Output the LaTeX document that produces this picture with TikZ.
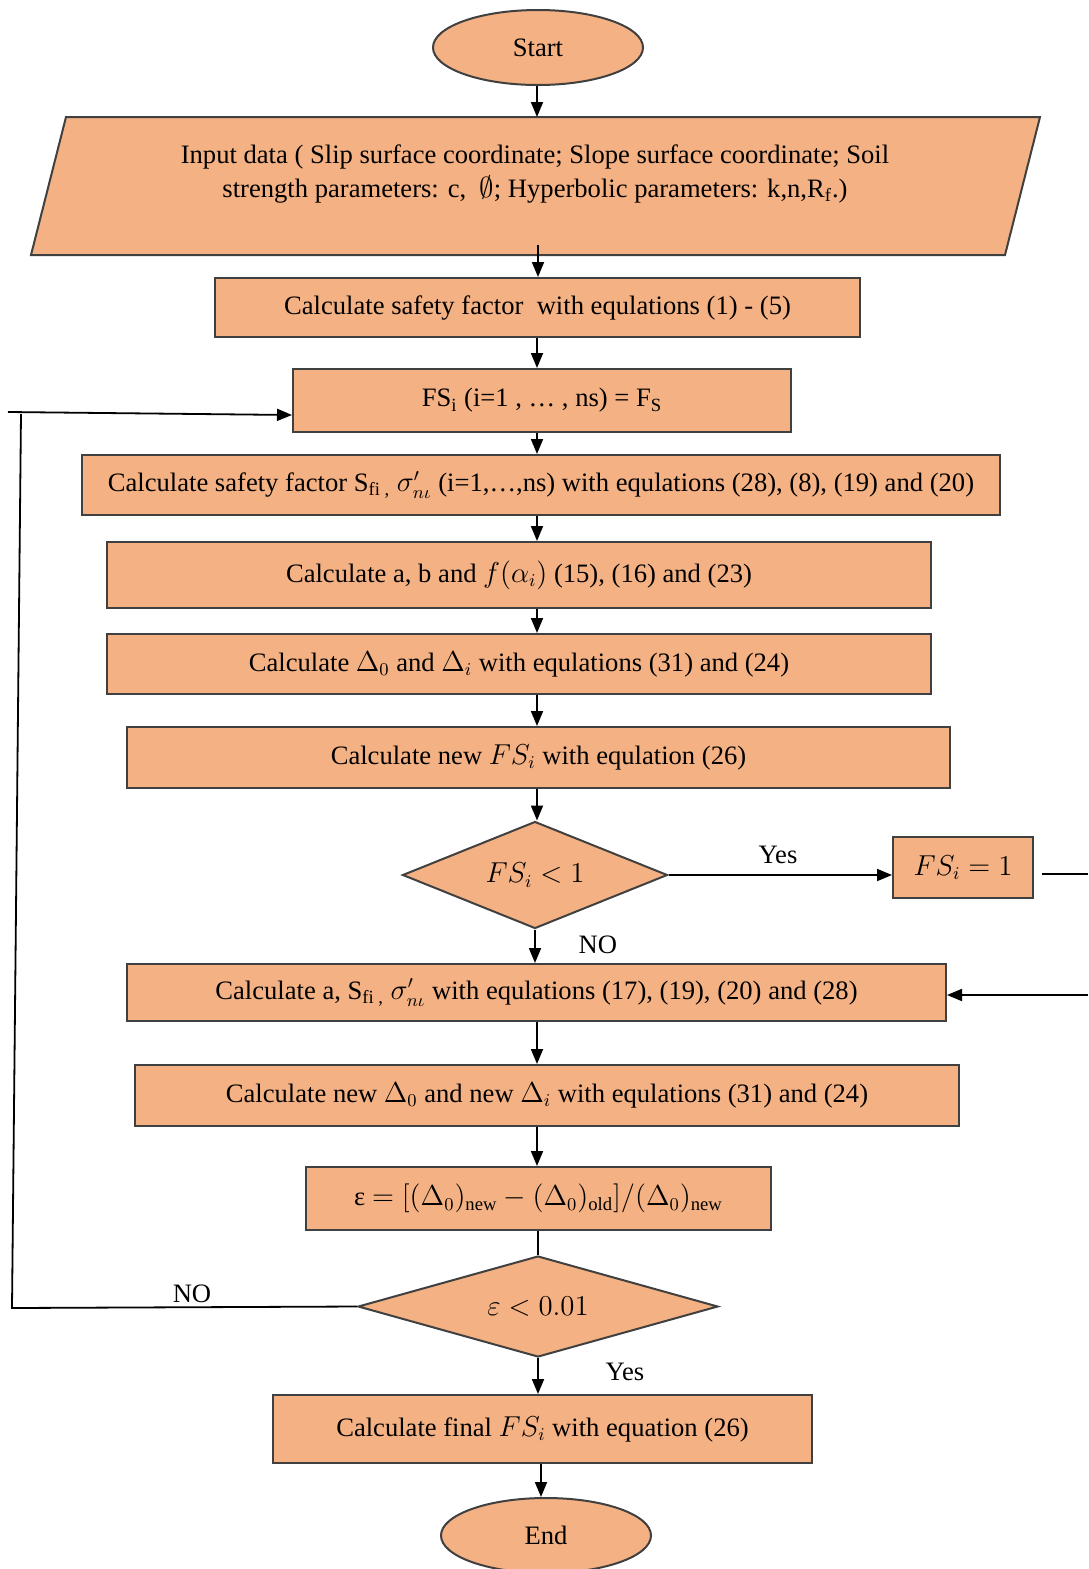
\documentclass[tikz,border=0pt]{standalone}
\usepackage{fontspec}
\setmainfont{Liberation Serif}
\usetikzlibrary{shapes.geometric,arrows.meta}
\begin{document}
\begin{tikzpicture}[x=0.5pt,y=-0.5pt,
  every node/.style={font=\fontsize{13.3}{16}\selectfont},
  fillst/.style={fill=peach, draw=bord, line width=1pt},
  boxst/.style={fillst, rectangle, inner sep=0pt, align=center},
  ellst/.style={fillst, ellipse, inner sep=0pt},
  diast/.style={fillst, diamond, inner sep=0pt},
  arr/.style={line width=0.9pt, -{Triangle[length=7.5pt,width=6pt]}},
  ln/.style={line width=0.9pt}]
\definecolor{peach}{HTML}{F4B183}
\definecolor{bord}{HTML}{404040}
\useasboundingbox (0,0) rectangle (1088,1569);
\coordinate (sp) at (537,0);
% start
\node[ellst, minimum width=105pt, minimum height=37.5pt] (start) at (538,47.5) {Start};
% input parallelogram
\draw[fillst] (66,117) -- (1040,117) -- (1005,255) -- (31,255) -- cycle;
\node[align=center] (inp) at (535,174) {Input data ( Slip surface coordinate; Slope surface coordinate; Soil\\[1pt] strength parameters: c,\ \ $\emptyset$; Hyperbolic parameters: k,n,R\textsubscript{f}.)};
\coordinate (inpT) at (538,117);
\coordinate (inpB) at (538,245);
% boxes
\node[boxst, minimum width=322.5pt, minimum height=29.5pt] (b1) at (537.5,307.5) {Calculate safety factor\ \ with equlations (1) - (5)};
\node[boxst, minimum width=249pt, minimum height=31.5pt] (b2) at (542,400.5) {FS\textsubscript{i} (i=1 , \dots\ , ns) = F\textsubscript{S}};
\node[boxst, minimum width=459pt, minimum height=30pt] (b3) at (541,485) {Calculate safety factor S\textsubscript{fi ,} $\sigma'_{n\iota}$ (i=1,\dots,ns) with equlations (28), (8), (19) and (20)};
\node[boxst, minimum width=412pt, minimum height=33pt] (b4) at (519,575) {Calculate a, b and $f(\alpha_i)$ (15), (16) and (23)};
\node[boxst, minimum width=412pt, minimum height=30pt] (b5) at (519,664) {Calculate $\Delta_0$ and $\Delta_i$ with equlations (31) and (24)};
\node[boxst, minimum width=411.5pt, minimum height=30.5pt] (b6) at (538.5,757.5) {Calculate new $FS_i$ with equlation (26)};
\node[diast, aspect=2.48, minimum width=132.5pt, minimum height=53.5pt] (d1) at (535,875) {$FS_i < 1$};
\node[boxst, minimum width=70pt, minimum height=30.5pt] (fs) at (963,867.5) {$FS_i = 1$};
\node[boxst, minimum width=409.5pt, minimum height=28.5pt] (b7) at (536.5,992.5) {Calculate a, S\textsubscript{fi ,} $\sigma'_{n\iota}$ with equlations (17), (19), (20) and (28)};
\node[boxst, minimum width=412pt, minimum height=30.5pt] (b8) at (547,1095.5) {Calculate new $\Delta_0$ and new $\Delta_i$ with equlations (31) and (24)};
\node[boxst, minimum width=232.5pt, minimum height=31.5pt] (b9) at (538.5,1198.5) {ε $= [(\Delta_0)_{\mathrm{new}} - (\Delta_0)_{\mathrm{old}}]/(\Delta_0)_{\mathrm{new}}$};
\node[diast, aspect=3.56, minimum width=180pt, minimum height=50.5pt] (d2) at (538,1306.5) {$\varepsilon < 0.01$};
\node[boxst, minimum width=269.5pt, minimum height=34pt] (b10) at (542.5,1429) {Calculate final $FS_i$ with equation (26)};
\node[ellst, minimum width=105pt, minimum height=37.5pt] (end) at (546,1535.5) {End};
% vertical connectors
\draw[arr] (start.south -| sp) -- (inpT -| sp);
\draw[arr] (inpB) -- (b1.north -| inpB);
\draw[arr] (b1.south -| sp) -- (b2.north -| sp);
\draw[arr] (b2.south -| sp) -- (b3.north -| sp);
\draw[arr] (b3.south -| sp) -- (b4.north -| sp);
\draw[arr] (b4.south -| sp) -- (b5.north -| sp);
\draw[arr] (b5.south -| sp) -- (b6.north -| sp);
\draw[arr] (b6.south -| sp) -- (d1.north -| sp);
\draw[arr] (d1.south) -- (b7.north -| d1.south) node[pos=0.45, right=18pt] {NO};
\draw[arr] (b7.south -| sp) -- (b8.north -| sp);
\draw[arr] (b8.south -| sp) -- (b9.north -| sp);
\draw[ln] (b9.south -| d2.north) -- (d2.north);
\draw[arr] (d2.south) -- (b10.north -| d2.south) node[pos=0.4, right=30pt] {Yes};
\draw[arr] (b10.south -| 541,0) -- (end.north -| 541,0);
% yes branch
\draw[arr] (d1.east) -- (fs.west |- d1.east) node[pos=0.49, above=2pt] {Yes};
\coordinate (r1) at (1042,874);
\coordinate (r2) at (1088,874);
\coordinate (r3) at (1088,995);
\draw[ln] (r1) -- (r2);
\draw[arr] (r3) -- (b7.east |- r3);
% no loop
\coordinate (l1) at (12,1308);
\coordinate (l2) at (21,414);
\coordinate (l3) at (8,412);
\draw[ln] (d2.west) -- (l1) -- (l2);
\draw[arr] (l3) -- (b2.west |- 0,415);
\node at (192,1294) {NO};
\end{tikzpicture}
\end{document}
